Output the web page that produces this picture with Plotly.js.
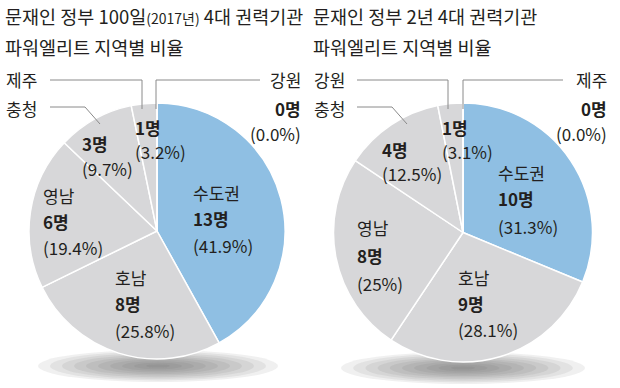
<!DOCTYPE html>
<html>
<head>
<meta charset="utf-8">
<script src="https://cdn.plot.ly/plotly-3.0.1.min.js"></script>
<style>
html,body{margin:0;padding:0;background:#fff;}
#chart{width:620px;height:388px;}
</style>
</head>
<body>
<div id="chart"></div>
<script>
// ---- data ----
const titleLeft1 = '문재인 정부 100일<span style="font-size:14px">(2017년)</span> 4대 권력기관';
const titleLeft2 = '파워엘리트 지역별 비율';
const titleRight1 = '문재인 정부 2년 4대 권력기관';
const titleRight2 = '파워엘리트 지역별 비율';

const regionsLeft = ['수도권', '호남', '영남', '충청', '제주', '강원'];
const countsLeft = [13, 8, 6, 3, 1, 0];
const pctLeft = ['41.9%', '25.8%', '19.4%', '9.7%', '3.2%', '0.0%'];

const regionsRight = ['수도권', '호남', '영남', '충청', '강원', '제주'];
const countsRight = [10, 9, 8, 4, 1, 0];
const pctRight = ['31.3%', '28.1%', '25%', '12.5%', '3.1%', '0.0%'];

const colorsLeft = ['#8fbfe3', '#d7d7d9', '#d7d7d9', '#d7d7d9', '#d7d7d9', '#d7d7d9'];
const colorsRight = ['#8fbfe3', '#d7d7d9', '#d7d7d9', '#d7d7d9', '#d7d7d9', '#d7d7d9'];

// ---- layout helpers ----
const W = 620, H = 388;
const FONT = '"Noto Sans CJK KR", "Noto Sans", sans-serif';
const TXT = '#231f20';
const px = x => x / W;
const py = y => 1 - y / H;

function pieTrace(labels, values, colors, cx, cy, r) {
  return {
    type: 'pie', labels: labels, values: values, sort: false, direction: 'clockwise',
    rotation: 0, textinfo: 'none', hoverinfo: 'label+value',
    marker: {colors: colors, line: {color: '#ffffff', width: 1.5}},
    domain: {x: [px(cx - r), px(cx + r)], y: [py(cy + r), py(cy - r)]},
    showlegend: false
  };
}

const annotations = [];
function txt(text, x, y, opts) {
  opts = opts || {};
  annotations.push(Object.assign({
    xref: 'paper', yref: 'paper', x: px(x), y: py(y), text: text, showarrow: false,
    xanchor: 'left', yanchor: 'middle',
    font: {family: FONT, size: 17, color: TXT}
  }, opts));
}
function sliceLabel(i, names, counts, pcts, x, y, withName, gap) {
  gap = gap || 26;
  let yy = y;
  if (withName) { txt(names[i], x, yy); yy += gap; }
  txt('<b>' + counts[i] + '명</b>', x, yy); yy += gap;
  txt('(' + pcts[i] + ')', x, yy);
}

// titles
const TF = {family: FONT, size: 18.5, color: TXT};
txt(titleLeft1, 3, 16, {font: TF});
txt(titleLeft2, 3, 47, {font: TF});
txt(titleRight1, 311, 16, {font: TF});
txt(titleRight2, 311, 47, {font: TF});

// left pie labels
sliceLabel(0, regionsLeft, countsLeft, pctLeft, 191, 192, true, 26.5);
sliceLabel(1, regionsLeft, countsLeft, pctLeft, 113, 277, true, 26.5);
sliceLabel(2, regionsLeft, countsLeft, pctLeft, 41, 195, true, 26.5);
sliceLabel(3, regionsLeft, countsLeft, pctLeft, 80, 143, false, 25);
sliceLabel(4, regionsLeft, countsLeft, pctLeft, 133, 128, false, 24);
txt(regionsLeft[3], 4, 108);
txt(regionsLeft[4], 4, 80);
txt(regionsLeft[5], 303, 80, {xanchor: 'right'});
txt('<b>' + countsLeft[5] + '명</b>', 303, 108, {xanchor: 'right'});
txt('(' + pctLeft[5] + ')', 303, 133, {xanchor: 'right'});

// right pie labels
sliceLabel(0, regionsRight, countsRight, pctRight, 496, 172, true, 27);
sliceLabel(1, regionsRight, countsRight, pctRight, 456, 277, true, 26);
sliceLabel(2, regionsRight, countsRight, pctRight, 355, 227, true, 28);
sliceLabel(3, regionsRight, countsRight, pctRight, 380, 150, false, 23);
sliceLabel(4, regionsRight, countsRight, pctRight, 440, 128, false, 24);
txt(regionsRight[3], 312, 108);
txt(regionsRight[4], 312, 80);
txt(regionsRight[5], 609, 80, {xanchor: 'right'});
txt('<b>' + countsRight[5] + '명</b>', 609, 108, {xanchor: 'right'});
txt('(' + pctRight[5] + ')', 609, 133, {xanchor: 'right'});

// leader lines and shadows
const LINE = {color: '#8a8a8a', width: 1};
function path(pts) {
  return {type: 'path', xref: 'paper', yref: 'paper', layer: 'above', line: LINE,
    path: pts.map((p, i) => (i ? 'L' : 'M') + px(p[0]) + ',' + py(p[1])).join(' ')};
}
const shapes = [
  path([[50, 80], [142, 80], [142, 109]]),
  path([[260, 80], [156, 80], [156, 109]]),
  path([[50, 107], [85, 107], [100, 124]]),
  path([[357, 80], [448, 80], [448, 109]]),
  path([[563, 80], [463, 80], [463, 109]]),
  path([[357, 107], [392, 107], [407, 124]])
];
function shadow(cx, cy, rx, ry) {
  const steps = 10;
  for (let k = 0; k < steps; k++) {
    const f = 1 - k / steps;
    shapes.push({type: 'circle', xref: 'paper', yref: 'paper', layer: 'below',
      x0: px(cx - rx * f), x1: px(cx + rx * f), y0: py(cy + ry * f), y1: py(cy - ry * f),
      fillcolor: 'rgba(90,90,90,0.09)', line: {width: 0}});
  }
}
shadow(158, 366, 120, 16);
shadow(463, 368, 122, 16);

const data = [
  pieTrace(regionsLeft, countsLeft, colorsLeft, 157, 231, 128),
  pieTrace(regionsRight, countsRight, colorsRight, 463, 232.5, 129.5)
];

const layout = {
  width: W, height: H, margin: {l: 0, r: 0, t: 0, b: 0},
  paper_bgcolor: '#ffffff', plot_bgcolor: '#ffffff',
  annotations: annotations, shapes: shapes, showlegend: false
};
Plotly.newPlot('chart', data, layout, {staticPlot: true});
</script>
</body>
</html>
